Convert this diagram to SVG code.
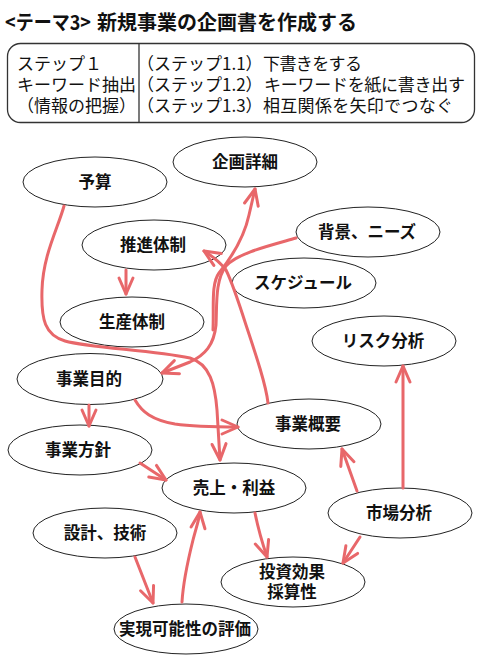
<svg xmlns="http://www.w3.org/2000/svg" width="484" height="668" viewBox="0 0 484 668">
<style>
  .t { font-family: "Noto Sans CJK JP", "Noto Sans", sans-serif; fill: #111; }
  .title { font-size: 20px; font-weight: bold; }
  .tbl { font-size: 17px; }
  .lbl { font-size: 16.5px; font-weight: bold; text-anchor: middle; }
  .node ellipse { fill: #fff; stroke: #222; stroke-width: 1; }
  .conn path { fill: none; stroke: #e8676a; stroke-width: 3; stroke-linecap: round; stroke-linejoin: round; marker-end: url(#ah); }
</style>
<defs>
  <marker id="ah" viewBox="-20 -10 22 20" markerWidth="22" markerHeight="20" refX="0" refY="0" orient="auto" markerUnits="userSpaceOnUse" overflow="visible">
    <path d="M-16,-7 L0,0 L-16,7" fill="none" stroke="#e8676a" stroke-width="3" stroke-linecap="round" stroke-linejoin="round"/>
  </marker>
</defs>
<rect width="484" height="668" fill="#fff"/>

<g id="title">
  <text class="t title" x="5" y="30" textLength="86" lengthAdjust="spacingAndGlyphs">&lt;テーマ3&gt;</text>
  <text class="t title" x="97" y="30">新規事業の企画書を作成する</text>
</g>

<g id="steps">
  <rect x="7.5" y="43.5" width="467" height="79" rx="13" ry="13" fill="#fff" stroke="#333" stroke-width="1.3"/>
  <line x1="139" y1="43.5" x2="139" y2="122.5" stroke="#333" stroke-width="1.3"/>
  <text class="t tbl" x="17" y="70">ステップ１</text>
  <text class="t tbl" x="17" y="91">キーワード抽出</text>
  <text class="t tbl" x="17" y="112">（情報の把握）</text>
  <text class="t tbl" x="137" y="70">（ステップ1.1）</text>
  <text class="t tbl" x="137" y="91">（ステップ1.2）</text>
  <text class="t tbl" x="137" y="112">（ステップ1.3）</text>
  <text class="t tbl" x="263" y="70" textLength="99">下書きをする</text>
  <text class="t tbl" x="264" y="91" textLength="201">キーワードを紙に書き出す</text>
  <text class="t tbl" x="263" y="112" textLength="190">相互関係を矢印でつなぐ</text>
</g>

<g id="n-yosan" class="node"><ellipse cx="95" cy="182" rx="72" ry="25"/><text class="t lbl" x="95" y="188">予算</text></g>
<g id="n-kikaku" class="node"><ellipse cx="245" cy="162" rx="72" ry="25"/><text class="t lbl" x="245" y="168">企画詳細</text></g>
<g id="n-suishin" class="node"><ellipse cx="154" cy="245" rx="72" ry="25"/><text class="t lbl" x="153" y="251">推進体制</text></g>
<g id="n-haikei" class="node"><ellipse cx="368" cy="232" rx="72" ry="25"/><text class="t lbl" x="367" y="238">背景、ニーズ</text></g>
<g id="n-schedule" class="node"><ellipse cx="304" cy="283" rx="72" ry="25"/><text class="t lbl" x="303" y="289">スケジュール</text></g>
<g id="n-seisan" class="node"><ellipse cx="132" cy="322" rx="72" ry="25"/><text class="t lbl" x="132" y="328">生産体制</text></g>
<g id="n-risk" class="node"><ellipse cx="384" cy="341" rx="72" ry="25"/><text class="t lbl" x="383" y="347">リスク分析</text></g>
<g id="n-mokuteki" class="node"><ellipse cx="90" cy="379" rx="73" ry="25.5"/><text class="t lbl" x="89" y="385">事業目的</text></g>
<g id="n-gaiyou" class="node"><ellipse cx="309" cy="424" rx="72" ry="25"/><text class="t lbl" x="308" y="430">事業概要</text></g>
<g id="n-houshin" class="node"><ellipse cx="80" cy="450" rx="72" ry="25"/><text class="t lbl" x="78" y="456">事業方針</text></g>
<g id="n-uriage" class="node"><ellipse cx="234" cy="488" rx="72" ry="25"/><text class="t lbl" x="234" y="494">売上・利益</text></g>
<g id="n-shijou" class="node"><ellipse cx="400" cy="513" rx="72" ry="25"/><text class="t lbl" x="399" y="519">市場分析</text></g>
<g id="n-sekkei" class="node"><ellipse cx="105" cy="533" rx="72" ry="25"/><text class="t lbl" x="105" y="539">設計、技術</text></g>
<g id="n-toushi" class="node"><ellipse cx="293" cy="582" rx="72" ry="25"/><text class="t lbl" x="292" y="578">投資効果</text><text class="t lbl" x="292" y="598">採算性</text></g>
<g id="n-jitsugen" class="node"><ellipse cx="186" cy="629" rx="72" ry="25"/><text class="t lbl" x="185" y="635">実現可能性の評価</text></g>

<g id="connectors" class="conn">
  <path d="M64,206 C58,228 43,255 42,290 C41,320 45,335 65,341 C90,348 150,350 190,358 C210,364 215,385 217,410 L220,460"/>
  <path d="M296,238 C268,246 238,253 226,266 C215,280 217,305 216,325 C214,345 205,355 190,362 L162,373"/>
  <path d="M213,330 C214,305 211,284 219,273 C231,258 244,238 249,215 L255,189"/>
  <path d="M126,270 L126,294"/>
  <path d="M89,405 L89,426"/>
  <path d="M135,400 C142,412 152,420 175,424 C195,427 215,427 238,427"/>
  <path d="M140,463 L166,480"/>
  <path d="M268,403 C266,385 256,355 246,325 C238,300 232,282 226,270 C220,262 212,256 204,251"/>
  <path d="M255,513 C258,528 262,542 267,557"/>
  <path d="M357,491 L342,449"/>
  <path d="M403,488 L403,366"/>
  <path d="M360,537 L343,563"/>
  <path d="M135,557 C141,572 147,588 153,603"/>
  <path d="M182,602 C183,585 188,560 193,540 C196,528 199,520 200,512"/>
</g>
</svg>
